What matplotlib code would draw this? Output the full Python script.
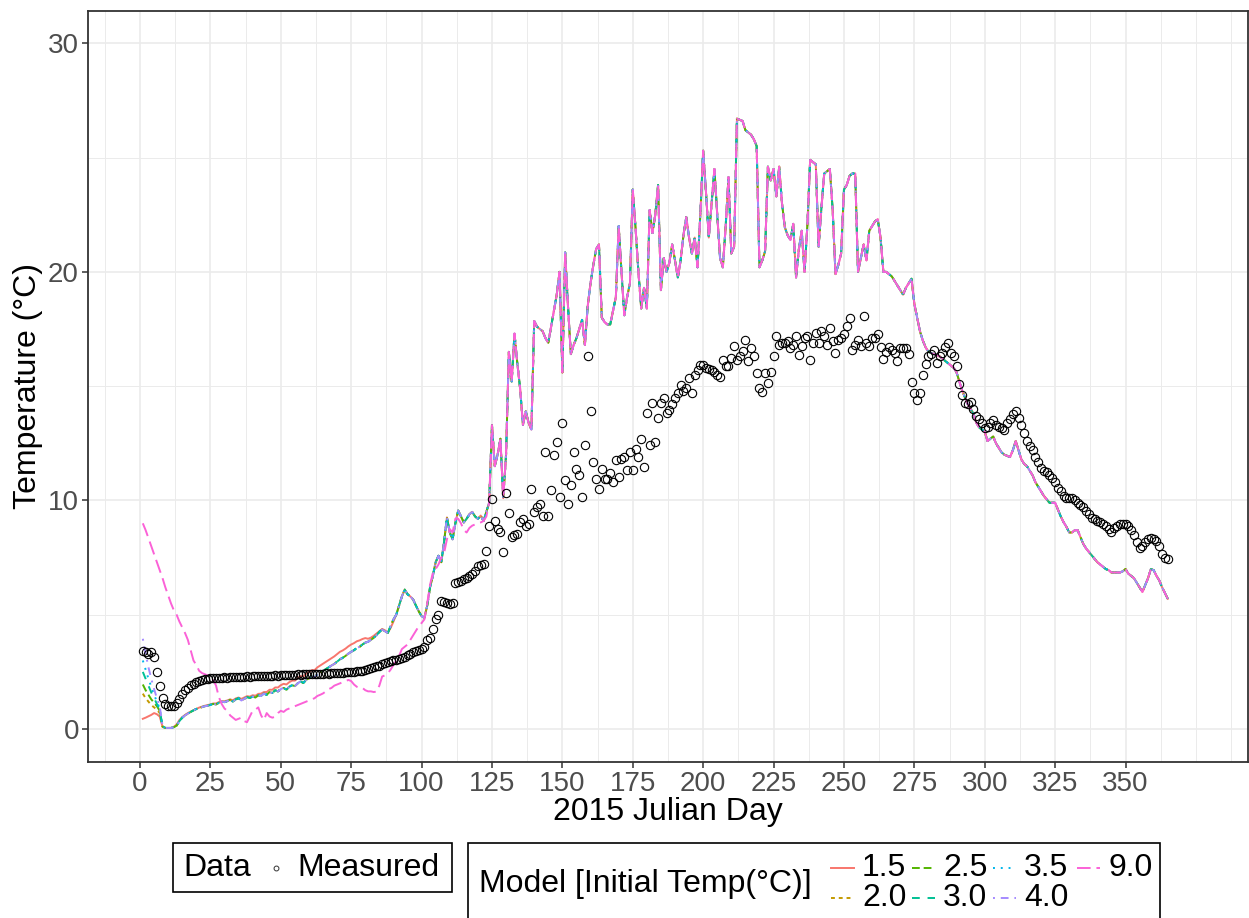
import numpy as np
import matplotlib.pyplot as plt
from matplotlib.lines import Line2D
from matplotlib.patches import Rectangle

plt.rcParams['font.family'] = ['Liberation Sans', 'DejaVu Sans']

# daily values, Julian day 1..365
days = np.arange(1, 366)

measured = [
    3.40, 3.36, 3.30, 3.35, 3.15, 2.50, 1.90, 1.35, 1.10, 1.02,
    1.00, 1.00, 1.12, 1.30, 1.55, 1.70, 1.80, 1.92, 1.98, 2.05,
    2.10, 2.14, 2.18, 2.20, 2.22, 2.24, 2.23, 2.25, 2.24, 2.26,
    2.25, 2.27, 2.26, 2.28, 2.27, 2.29, 2.28, 2.30, 2.29, 2.31,
    2.30, 2.32, 2.31, 2.33, 2.32, 2.34, 2.33, 2.35, 2.34, 2.36,
    2.35, 2.37, 2.36, 2.38, 2.37, 2.39, 2.38, 2.40, 2.39, 2.41,
    2.40, 2.42, 2.41, 2.43, 2.42, 2.44, 2.43, 2.45, 2.44, 2.46,
    2.45, 2.47, 2.48, 2.50, 2.49, 2.51, 2.52, 2.54, 2.56, 2.58,
    2.62, 2.66, 2.70, 2.74, 2.78, 2.83, 2.88, 2.93, 2.97, 3.00,
    3.04, 3.08, 3.12, 3.17, 3.24, 3.30, 3.36, 3.40, 3.45, 3.50,
    3.60, 3.90, 4.00, 4.38, 4.80, 4.97, 5.60, 5.55, 5.53, 5.45,
    5.50, 6.40, 6.45, 6.48, 6.55, 6.60, 6.70, 6.80, 6.92, 7.14,
    7.18, 7.21, 7.80, 8.87, 10.07, 9.12, 8.75, 8.60, 7.75, 10.33,
    9.45, 8.40, 8.49, 8.53, 9.04, 9.20, 8.90, 8.97, 10.50, 9.50,
    9.70, 9.85, 9.34, 12.13, 9.34, 10.44, 11.98, 12.57, 10.15, 13.37,
    10.88, 9.85, 10.66, 12.13, 11.39, 11.10, 10.15, 12.42, 16.30, 13.90,
    11.69, 10.95, 10.50, 11.39, 10.95, 10.95, 11.20, 10.80, 11.76, 11.03,
    11.83, 11.90, 11.32, 12.13, 11.32, 12.27, 11.90, 12.71, 11.46, 13.81,
    12.42, 14.25, 12.57, 13.59, 14.25, 14.47, 13.81, 13.96, 14.20, 14.47,
    14.69, 15.06, 14.80, 14.91, 15.35, 14.69, 15.50, 15.70, 15.94, 15.94,
    15.79, 15.75, 15.72, 15.60, 15.50, 15.42, 16.16, 15.86, 15.90, 16.23,
    16.74, 16.16, 16.30, 16.52, 17.04, 16.08, 16.67, 16.30, 15.57, 14.91,
    14.76, 15.57, 15.13, 15.60, 16.30, 17.18, 16.82, 16.89, 16.90, 16.96,
    16.67, 16.80, 17.18, 16.38, 16.74, 17.11, 17.18, 16.16, 16.90, 17.33,
    16.89, 17.40, 17.18, 16.82, 17.55, 16.96, 16.45, 17.00, 17.11, 17.30,
    17.62, 17.99, 16.60, 16.80, 17.04, 16.74, 18.06, 16.90, 16.74, 17.10,
    17.11, 17.26, 16.70, 16.20, 16.50, 16.70, 16.60, 16.45, 16.10, 16.67,
    16.67, 16.67, 16.40, 15.20, 14.70, 14.40, 14.70, 15.50, 15.97, 16.30,
    16.40, 16.60, 16.00, 16.30, 16.45, 16.70, 16.90, 16.45, 16.30, 15.90,
    15.10, 14.60, 14.25, 14.20, 14.30, 14.00, 13.70, 13.55, 13.40, 13.15,
    13.20, 13.40, 13.50, 13.30, 13.20, 13.15, 13.10, 13.40, 13.55, 13.80,
    13.90, 13.60, 13.30, 12.93, 12.60, 12.40, 12.20, 11.90, 11.70, 11.40,
    11.30, 11.25, 11.10, 11.00, 10.80, 10.55, 10.40, 10.20, 10.10, 10.10,
    10.10, 10.00, 9.90, 9.80, 9.70, 9.56, 9.40, 9.25, 9.20, 9.10,
    9.05, 8.95, 8.90, 8.75, 8.60, 8.80, 8.90, 8.95, 8.97, 8.95,
    8.90, 8.70, 8.50, 8.20, 7.90, 8.00, 8.20, 8.30, 8.35, 8.30,
    8.24, 8.00, 7.65, 7.50, 7.43,
]

# model run started at 3.0 degC; the other runs share it once converged
model_base = [
    2.50, 2.20, 1.90, 1.60, 1.35, 1.10, 0.85, 0.10, 0.05, 0.05,
    0.05, 0.08, 0.15, 0.35, 0.50, 0.60, 0.68, 0.75, 0.82, 0.88,
    0.92, 0.96, 1.00, 1.02, 1.06, 1.10, 1.08, 1.15, 1.20, 1.18,
    1.22, 1.28, 1.20, 1.30, 1.35, 1.25, 1.32, 1.40, 1.36, 1.42,
    1.38, 1.48, 1.45, 1.55, 1.50, 1.62, 1.58, 1.70, 1.65, 1.75,
    1.80, 1.72, 1.85, 1.92, 1.88, 2.00, 2.08, 2.02, 2.15, 2.22,
    2.30, 2.25, 2.40, 2.48, 2.55, 2.62, 2.70, 2.78, 2.85, 2.95,
    3.05, 3.12, 3.20, 3.30, 3.38, 3.45, 3.55, 3.60, 3.70, 3.78,
    3.82, 3.90, 4.00, 4.10, 4.25, 4.35, 4.28, 4.20, 4.50, 4.80,
    5.00, 5.40, 5.80, 6.10, 5.90, 5.80, 5.67, 5.40, 5.15, 4.94,
    4.87, 5.40, 6.20, 6.70, 7.30, 7.58, 7.30, 8.20, 9.26, 8.60,
    8.30, 9.00, 9.56, 9.30, 9.04, 9.20, 9.40, 9.50, 9.30, 9.20,
    9.34, 9.10, 9.50, 9.90, 13.30, 11.50, 12.00, 12.70, 10.10, 12.00,
    16.50, 15.20, 17.30, 16.00, 14.90, 13.30, 13.90, 13.40, 13.10, 17.85,
    17.60, 17.50, 17.40, 17.10, 16.90, 17.60, 18.30, 19.00, 20.00, 15.60,
    20.85, 18.50, 16.40, 16.80, 17.10, 17.50, 17.90, 16.80, 18.50, 19.50,
    20.30, 21.00, 21.20, 18.00, 17.80, 17.70, 17.70, 18.30, 18.90, 22.00,
    20.00, 18.10, 18.90, 19.50, 23.60, 21.90, 20.00, 18.40, 19.30, 18.40,
    22.70, 21.70, 22.50, 23.80, 19.20, 20.60, 20.00, 20.40, 21.20, 20.50,
    19.75, 20.50, 21.60, 22.40, 21.50, 20.80, 21.50, 20.20, 22.50, 25.30,
    23.50, 21.50, 23.00, 24.50, 22.50, 20.60, 20.20, 22.00, 24.15, 20.80,
    21.10, 26.70, 26.65, 26.60, 26.20, 26.10, 26.00, 25.80, 25.50, 20.20,
    20.50, 20.90, 24.60, 24.00, 24.50, 23.30, 24.60, 23.00, 21.95, 21.60,
    21.40, 22.10, 19.75, 21.00, 21.80, 20.00, 22.00, 24.90, 24.80, 24.70,
    21.10, 22.80, 24.30, 24.40, 24.50, 22.70, 19.90, 20.30, 20.80, 23.60,
    23.80, 24.20, 24.30, 24.30, 20.00, 20.60, 21.20, 20.50, 21.80, 22.00,
    22.20, 22.30, 21.50, 20.00, 20.00, 19.90, 19.80, 19.60, 19.40, 19.20,
    19.00, 19.30, 19.50, 19.70, 18.60, 18.00, 17.40, 17.00, 16.70, 16.50,
    16.45, 16.40, 16.35, 16.30, 16.20, 16.10, 16.00, 15.90, 15.80, 15.60,
    15.20, 14.80, 14.50, 14.20, 14.00, 13.80, 13.40, 13.20, 13.10, 13.00,
    12.60, 12.70, 12.80, 12.50, 12.30, 12.10, 12.00, 11.95, 11.90, 12.20,
    12.60, 12.20, 11.80, 11.60, 11.50, 11.30, 11.10, 10.80, 10.60, 10.40,
    10.20, 10.05, 9.90, 9.90, 9.90, 9.60, 9.30, 9.05, 8.85, 8.60,
    8.60, 8.70, 8.70, 8.40, 8.10, 7.90, 7.75, 7.60, 7.45, 7.30,
    7.20, 7.10, 7.00, 6.95, 6.85, 6.85, 6.85, 6.85, 6.90, 7.00,
    6.80, 6.70, 6.60, 6.40, 6.20, 6.00, 6.30, 6.60, 7.00, 6.95,
    6.70, 6.50, 6.20, 5.95, 5.70,
]

# start of each run before it joins model_base
early_15 = [
    0.45, 0.50, 0.56, 0.62, 0.70, 0.65, 0.55, 0.10, 0.05, 0.05,
    0.05, 0.10, 0.20, 0.40, 0.52, 0.62, 0.70, 0.76, 0.82, 0.88,
    0.94, 0.98, 1.02, 1.05, 1.08, 1.12, 1.12, 1.18, 1.22, 1.22,
    1.25, 1.30, 1.26, 1.34, 1.38, 1.32, 1.38, 1.44, 1.42, 1.48,
    1.46, 1.54, 1.55, 1.62, 1.62, 1.72, 1.72, 1.82, 1.82, 1.92,
    1.98, 1.95, 2.05, 2.12, 2.12, 2.24, 2.32, 2.30, 2.42, 2.50,
    2.58, 2.58, 2.70, 2.78, 2.86, 2.94, 3.02, 3.10, 3.18, 3.28,
    3.38, 3.44, 3.52, 3.62, 3.70, 3.76, 3.84, 3.88, 3.94, 3.98,
    3.95, 4.00, 4.08, 4.18, 4.28, 4.38, 4.32, 4.22, 4.42, 4.70,
]
early_20 = [1.55, 1.35, 1.20, 1.05, 0.95, 0.85, 0.70, 0.10]
early_25 = [1.95, 1.70, 1.50, 1.30, 1.15, 1.00, 0.80, 0.12]
early_35 = [3.00, 2.60, 2.20, 1.85, 1.50, 1.20, 0.90, 0.12]
early_40 = [3.95, 3.30, 2.70, 2.20, 1.75, 1.35, 1.00, 0.15]
early_90 = [
    9.00, 8.70, 8.35, 8.00, 7.65, 7.30, 6.95, 6.60, 6.20, 5.85,
    5.50, 5.20, 5.00, 4.70, 4.45, 4.20, 3.90, 3.45, 3.00, 2.80,
    2.55, 2.45, 2.40, 2.35, 2.25, 2.15, 1.90, 1.40, 1.10, 0.90,
    0.80, 0.60, 0.50, 0.40, 0.45, 0.50, 0.35, 0.30, 0.55, 0.80,
    0.85, 0.95, 0.60, 0.40, 0.70, 0.55, 0.50, 0.54, 0.70, 0.80,
    0.75, 0.85, 0.90, 0.95, 1.00, 1.05, 1.10, 1.15, 1.20, 1.25,
    1.30, 1.35, 1.45, 1.50, 1.56, 1.65, 1.75, 1.80, 1.90, 1.95,
    2.00, 2.05, 2.10, 2.15, 2.10, 1.95, 1.85, 1.80, 1.80, 1.70,
    1.65, 1.65, 1.62, 1.64, 1.90, 2.30, 2.35, 2.44, 2.60, 2.80,
    3.00, 3.20, 3.50, 3.60, 3.70, 3.90, 4.10, 4.30, 4.50, 4.64,
    4.80, 5.50, 6.30, 6.84, 7.00, 7.20, 7.50, 7.70, 8.30, 8.75,
    8.60, 9.20, 9.20, 9.00, 8.70, 8.60, 8.80, 8.90, 8.95, 9.00,
    9.04, 9.10, 9.30,
]

init_labels = ['1.5', '2.0', '2.5', '3.0', '3.5', '4.0', '9.0']
early_parts = [early_15, early_20, early_25, [], early_35, early_40, early_90]

colors = ['#F8766D', '#C49A00', '#53B400', '#00C094', '#00B6EB', '#A58AFF', '#FB61D7']
dashes = ['-', (0, (2, 2)), (0, (4, 2)), (0, (4, 4)), (0, (1, 3)),
          (0, (1, 3, 4, 3)), (0, (7, 3))]

W, H = 1249, 918
fig = plt.figure(figsize=(W / 100, H / 100), dpi=100)
fig.patch.set_facecolor('white')
ax = fig.add_axes([88 / W, 1 - 762 / H, (1248 - 88) / W, (762 - 11) / H])

for lab, early, col, ls in zip(init_labels, early_parts, colors, dashes):
    series = list(early) + model_base[len(early):]
    ax.plot(days, series, color=col, lw=1.4, ls=ls, zorder=3)

ax.plot(days, measured, ls='none', marker='o', ms=6, mfc='none',
        mec='black', mew=0.8, zorder=4)

ax.set_xlim(-18.47, 393.5)
ax.set_ylim(-1.44, 31.41)
ax.set_xticks(np.arange(0, 351, 25))
ax.set_xticks(np.arange(-12.5, 390, 12.5)[::2].tolist() + [375], minor=True)
ax.set_yticks([0, 10, 20, 30])
ax.set_yticks([5, 15, 25], minor=True)

ax.grid(which='major', color='#EBEBEB', lw=1.2, zorder=0)
ax.grid(which='minor', color='#EBEBEB', lw=0.7, zorder=0)
ax.set_axisbelow(True)
ax.tick_params(which='major', length=4, width=1.1, color='#333333',
               labelcolor='#4D4D4D', labelsize=20, pad=2.5)
ax.tick_params(which='minor', length=0)
for sp in ax.spines.values():
    sp.set_color('#333333')
    sp.set_linewidth(1.3)

fig.text(668 / W, 1 - 812 / H, '2015 Julian Day', fontsize=23,
         ha='center', va='center', color='black')
fig.text(28 / W, 1 - 386 / H, 'Temperature (°C)', fontsize=23, rotation=90,
         ha='center', va='center', color='black')


def fx(px):
    return px / W


def fy(py):
    return 1 - py / H


# legend for the measured points
fig.add_artist(Rectangle((fx(173), fy(892)), fx(452) - fx(173), fy(843) - fy(892),
                         transform=fig.transFigure, fill=False, ec='black', lw=1.2))
fig.text(fx(183), fy(868), 'Data', fontsize=23, ha='left', va='center')
fig.add_artist(Line2D([fx(276)], [fy(868)], transform=fig.transFigure, ls='none',
                      marker='o', ms=3.5, mfc='none', mec='#333333', mew=0.7))
fig.text(fx(297), fy(868), 'Measured', fontsize=23, ha='left', va='center')

# legend for the model runs, two rows
fig.add_artist(Rectangle((fx(468), fy(930)), fx(1160) - fx(468), fy(843) - fy(930),
                         transform=fig.transFigure, fill=False, ec='black', lw=1.2,
                         clip_on=False))
fig.text(fx(479), fy(884), 'Model [Initial Temp(°C)]', fontsize=23,
         ha='left', va='center')
key_x = [831, 912, 993, 1077]
for i, (lab, col, ls) in enumerate(zip(init_labels, colors, dashes)):
    cx = key_x[i // 2]
    ry = 868 if i % 2 == 0 else 898
    fig.add_artist(Line2D([fx(cx), fx(cx + 23)], [fy(ry), fy(ry)],
                          transform=fig.transFigure, color=col, lw=1.4, ls=ls))
    fig.text(fx(cx + 31), fy(ry), lab, fontsize=23, ha='left', va='center')

fig.savefig('out.png', dpi=100)
